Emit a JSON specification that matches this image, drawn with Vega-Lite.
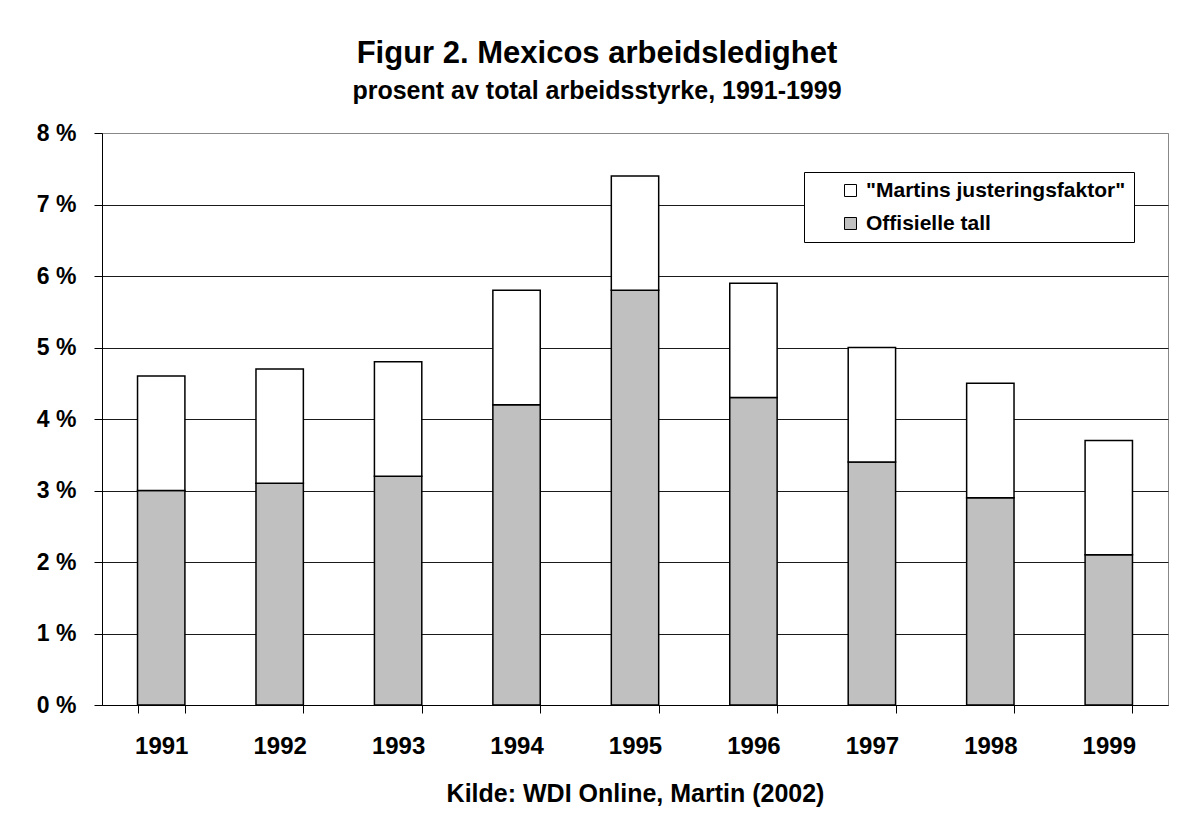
{
  "$schema": "https://vega.github.io/schema/vega-lite/v6.json",
  "width": 1066,
  "height": 572,
  "autosize": {"type": "none"},
  "padding": {"left": 102, "top": 133, "right": 26, "bottom": 115},
  "background": "white",
  "title": {
    "text": "Figur 2. Mexicos arbeidsledighet",
    "subtitle": "prosent av total arbeidsstyrke, 1991-1999",
    "anchor": "middle",
    "frame": "group",
    "dx": -38,
    "offset": 17,
    "font": "Liberation Sans",
    "fontSize": 31,
    "fontWeight": "bold",
    "color": "#000",
    "subtitleFont": "Liberation Sans",
    "subtitleFontSize": 25,
    "subtitleFontWeight": "bold",
    "subtitleColor": "#000",
    "subtitlePadding": 9
  },
  "data": {
    "values": [
      {"year": "1991", "series": "Offisielle tall", "value": 3.0},
      {"year": "1991", "series": "\"Martins justeringsfaktor\"", "value": 1.6},
      {"year": "1992", "series": "Offisielle tall", "value": 3.1},
      {"year": "1992", "series": "\"Martins justeringsfaktor\"", "value": 1.6},
      {"year": "1993", "series": "Offisielle tall", "value": 3.2},
      {"year": "1993", "series": "\"Martins justeringsfaktor\"", "value": 1.6},
      {"year": "1994", "series": "Offisielle tall", "value": 4.2},
      {"year": "1994", "series": "\"Martins justeringsfaktor\"", "value": 1.6},
      {"year": "1995", "series": "Offisielle tall", "value": 5.8},
      {"year": "1995", "series": "\"Martins justeringsfaktor\"", "value": 1.6},
      {"year": "1996", "series": "Offisielle tall", "value": 4.3},
      {"year": "1996", "series": "\"Martins justeringsfaktor\"", "value": 1.6},
      {"year": "1997", "series": "Offisielle tall", "value": 3.4},
      {"year": "1997", "series": "\"Martins justeringsfaktor\"", "value": 1.6},
      {"year": "1998", "series": "Offisielle tall", "value": 2.9},
      {"year": "1998", "series": "\"Martins justeringsfaktor\"", "value": 1.6},
      {"year": "1999", "series": "Offisielle tall", "value": 2.1},
      {"year": "1999", "series": "\"Martins justeringsfaktor\"", "value": 1.6}
    ]
  },
  "mark": {"type": "bar", "stroke": "#000", "strokeWidth": 1.5},
  "encoding": {
    "x": {
      "field": "year",
      "type": "ordinal",
      "scale": {"paddingInner": 0.6, "paddingOuter": 0.3},
      "axis": {
        "title": "Kilde: WDI Online, Martin (2002)",
        "labelAngle": 0,
        "labelFont": "Liberation Sans",
        "labelFontSize": 24,
        "labelFontWeight": "bold",
        "labelColor": "#000",
        "labelPadding": 21,
        "tickBand": "extent",
        "tickSize": 8,
        "tickColor": "#000",
        "domainColor": "#000",
        "domainWidth": 1,
        "titleFont": "Liberation Sans",
        "titleFontSize": 25,
        "titleFontWeight": "bold",
        "titleColor": "#000",
        "titlePadding": 23
      }
    },
    "y": {
      "field": "value",
      "type": "quantitative",
      "stack": "zero",
      "scale": {"domain": [0, 8], "nice": false},
      "axis": {
        "title": null,
        "values": [0, 1, 2, 3, 4, 5, 6, 7, 8],
        "labelExpr": "datum.value + ' %'",
        "labelFont": "Liberation Sans",
        "labelFontSize": 23,
        "labelFontWeight": "bold",
        "labelColor": "#000",
        "labelPadding": 18,
        "tickSize": 8,
        "tickColor": "#000",
        "domainColor": "#000",
        "grid": true,
        "gridColor": {"condition": {"test": "datum.value === 8", "value": "#888"}, "value": "#1a1a1a"},
        "gridWidth": 1
      }
    },
    "color": {
      "field": "series",
      "type": "nominal",
      "scale": {
        "domain": ["\"Martins justeringsfaktor\"", "Offisielle tall"],
        "range": ["#ffffff", "#c0c0c0"]
      },
      "legend": {
        "title": null,
        "orient": "none",
        "legendX": 702,
        "legendY": 39,
        "symbolType": "square",
        "symbolSize": 144,
        "symbolStrokeColor": "#000",
        "symbolStrokeWidth": 1,
        "symbolOffset": 28,
        "labelExpr": "datum.label + '\u00a0\u00a0\u00a0\u00a0'",
        "labelFont": "Liberation Sans",
        "labelFontSize": 21,
        "labelFontWeight": "bold",
        "labelColor": "#000",
        "labelOffset": 5,
        "labelLimit": 500,
        "rowPadding": 11,
        "padding": 8,
        "strokeColor": "#000",
        "fillColor": "#fff"
      }
    },
    "order": {"field": "series", "sort": "descending"}
  },
  "config": {
    "view": {"stroke": "#888", "strokeWidth": 1}
  }
}
